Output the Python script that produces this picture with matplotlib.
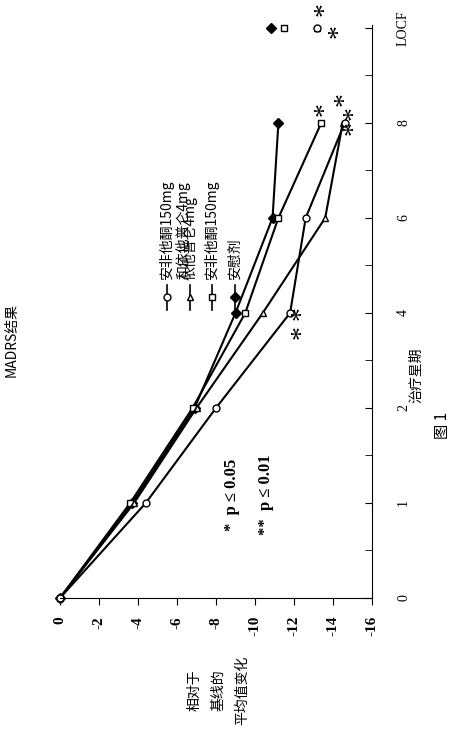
import matplotlib
matplotlib.use('Agg')
import matplotlib.pyplot as plt
from matplotlib.lines import Line2D

plt.rcParams['font.family'] = ['Liberation Serif', 'Noto Sans CJK SC']

# Données (semaines de traitement, variation moyenne MADRS)
weeks = ['0', '1', '2', '4', '6', '8', 'LOCF']
placebo = [0, -3.7, -6.9, -9.0, -10.9, -11.2]
bupropion = [0, -3.6, -6.8, -9.5, -11.2, -13.4]
escitalopram = [0, -3.8, -7.0, -10.4, -13.6, -14.5]
combo = [0, -4.4, -8.0, -11.8, -12.6, -14.6]
locf = [-10.8, -11.5, -13.2, -13.2]
labels = ['安慰剂', '安非他酮150mg', '依他普仑4mg', '安非他酮150mg\n和依他普仑4mg']
markers = ['D', 's', '^', 'o']
fills = ['black', 'white', 'white', 'white']
xticks = [0, -2, -4, -6, -8, -10, -12, -14, -16]

fig = plt.figure(figsize=(4.74, 7.42), dpi=100)
ax = fig.add_axes([60/474, 1-598/742, 312/474, 573/742])

pos = list(range(6))
for vals, m, fc in zip([placebo, bupropion, escitalopram, combo], markers, fills):
    ax.plot(vals, pos, '-', color='black', lw=1.5, marker=m, ms=5,
            mfc=fc, mec='black', mew=1, clip_on=False)
for v, m, fc in zip(locf, markers, fills):
    ax.plot([v], [6], marker=m, ms=5, mfc=fc, mec='black', mew=1, clip_on=False)

ax.set_xlim(0, -16)
ax.set_ylim(0, 6.03)
ax.spines['left'].set_visible(False)
ax.spines['top'].set_visible(False)
ax.yaxis.tick_right()
ax.set_xticks(xticks)
ax.set_xticklabels([str(t) for t in xticks], rotation=90, fontweight='bold', fontsize=11)
ax.set_yticks(range(7))
ax.set_yticks([p + 0.5 for p in range(6)], minor=True)
ax.set_yticklabels(weeks, rotation=90, va='center', fontsize=10)
ax.tick_params(axis='y', which='both', direction='in', length=5, pad=18)
ax.tick_params(axis='x', direction='out', length=5, pad=8)

# Étoiles de significativité
stars = [(-12.4, 3.0, '*'), (-12.4, 2.8, '*'), (-13.6, 5.15, '*'), (-14.6, 5.25, '*'),
         (-15.1, 5.1, '*'), (-15.1, 4.95, '*'), (-13.6, 6.2, '*'), (-14.3, 5.97, '*')]
for x, y, s in stars:
    ax.text(x, y, s, fontsize=20, ha='center', va='center', rotation=90)

# Légende manuelle (tournée)
leg_x = [0.561, 0.487, 0.417, 0.343]
for lx, lab, m, fc in zip(leg_x, labels, markers, fills):
    ax.add_line(Line2D([lx, lx, lx], [0.503, 0.525, 0.546], transform=ax.transAxes,
                       color='black', lw=1.2, marker=m, markevery=[1], ms=5,
                       mfc=fc, mec='black'))
    tx = lx + 0.025 if '\n' in lab else lx
    ax.text(tx, 0.555, lab, transform=ax.transAxes, rotation=90,
            ha='center', va='bottom', fontsize=10, family=['Noto Sans CJK SC'])

ax.text(0.55, 0.18, '*  p ≤ 0.05', transform=ax.transAxes, rotation=90,
        fontsize=12, fontweight='bold', ha='center', va='center')
ax.text(0.66, 0.18, '**  p ≤ 0.01', transform=ax.transAxes, rotation=90,
        fontsize=12, fontweight='bold', ha='center', va='center')

fig.text(12/474, 1-340/742, 'MADRS结果', rotation=90, fontsize=10,
         ha='center', va='center', family=['Noto Sans CJK SC'])
fig.text(218/474, 1-690/742, '相对于\n基线的\n平均值变化', rotation=90, fontsize=10,
         ha='center', va='center', family=['Noto Sans CJK SC'], linespacing=1.9)
fig.text(416/474, 1-375/742, '治疗星期', rotation=90, fontsize=10,
         ha='center', va='center', family=['Noto Sans CJK SC'])
fig.text(442/474, 1-425/742, '图 1', rotation=90, fontsize=11,
         ha='center', va='center', family=['Noto Sans CJK SC'])

fig.savefig('out.png', dpi=100)
